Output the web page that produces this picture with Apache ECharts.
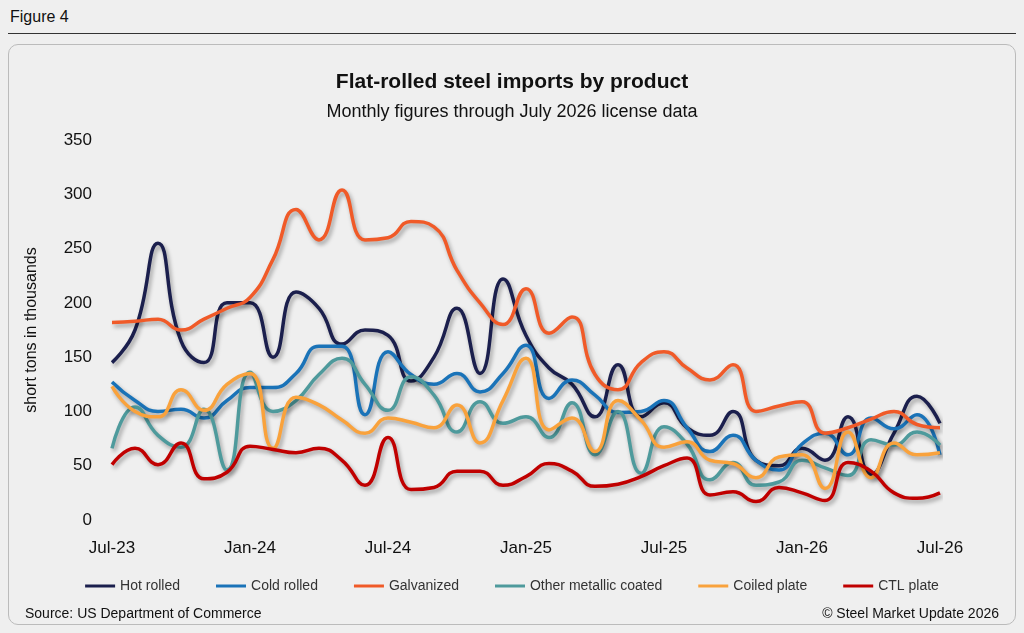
<!DOCTYPE html>
<html><head><meta charset="utf-8">
<script src="https://cdn.jsdelivr.net/npm/echarts@6/dist/echarts.min.js"></script>
<style>
body{margin:0;background:#efefef;font-family:"Liberation Sans",Arial,sans-serif;}
#fig{position:absolute;left:10px;top:8px;font-size:16px;color:#111;}
#rule{position:absolute;left:8px;right:8px;top:33px;border-top:1px solid #333;}
#box{position:absolute;left:8px;right:8px;top:44px;bottom:8px;border:1px solid #bbb;border-radius:10px;background:#efefef;}
#main{position:absolute;left:0;top:0;width:1024px;height:633px;}
</style></head><body>
<div id="fig">Figure 4</div><div id="rule"></div><div id="box"></div>
<div id="main"></div>
<script>
var months = [];
var mn = ['Jan','Feb','Mar','Apr','May','Jun','Jul','Aug','Sep','Oct','Nov','Dec'];
for (var i = 0; i < 37; i++) { var m = (6 + i) % 12, y = 23 + Math.floor((6 + i) / 12); months.push(mn[m] + '-' + y); }

var hotRolled = [145,175,255,165,145,200,200,150,210,195,162,175,170,128,150,195,135,222,170,140,125,95,143,95,108,85,78,100,55,50,66,55,95,42,80,114,89];
var coldRolled = [127,110,100,102,94,110,122,122,135,160,160,97,155,134,125,135,118,135,161,112,129,115,99,100,110,85,63,78,55,46,70,80,60,94,84,97,60];
var galvanized = [182,183,185,175,185,195,205,240,286,258,304,258,260,275,270,230,200,180,213,172,187,134,120,145,155,140,129,143,100,105,109,80,85,93,100,88,85];
var otherCoated = [66,104,78,67,102,46,136,100,110,134,149,125,101,132,115,81,109,89,95,76,108,60,100,43,86,70,37,53,32,35,55,48,41,74,69,81,69];
var coiledPlate = [123,100,95,120,101,125,135,66,113,106,92,80,94,90,85,106,71,110,149,83,94,63,110,92,67,72,55,52,39,58,60,29,81,39,71,60,62];
var ctlPlate = [51,66,51,71,38,44,68,65,62,66,55,32,76,28,30,45,45,32,40,52,45,31,33,40,50,57,23,26,17,30,25,18,53,45,25,20,25];

var names = ['Hot rolled','Cold rolled','Galvanized','Other metallic coated','Coiled plate','CTL plate'];
var colors = ['#1b1f4d','#1a73b8','#f05a28','#4e9a9c','#f9a23c','#c00000'];
var data = [hotRolled, coldRolled, galvanized, otherCoated, coiledPlate, ctlPlate];

var chart = echarts.init(document.getElementById('main'));
chart.setOption({
  backgroundColor: 'transparent',
  textStyle: {fontFamily: 'Liberation Sans'},
  title: [
    {text: 'Flat-rolled steel imports by product', left: 'center', top: 67, textStyle: {fontSize: 21, fontWeight: 'bold', color: '#111'}},
    {text: 'Monthly figures through July 2026 license data', left: 'center', top: 98, textStyle: {fontSize: 18, fontWeight: 'normal', color: '#111'}},
    {text: 'Source: US Department of Commerce', left: 20, top: 602, textStyle: {fontSize: 14, fontWeight: 'normal', color: '#111'}},
    {text: '© Steel Market Update 2026', right: 20, top: 602, textStyle: {fontSize: 14, fontWeight: 'normal', color: '#111'}}
  ],
  legend: {
    bottom: 35, left: 'center', itemWidth: 30, itemHeight: 3, itemGap: 36,
    icon: 'rect', textStyle: {fontSize: 14, color: '#333'}, data: names
  },
  grid: {left: 112, right: 84, top: 140, bottom: 113},
  xAxis: {
    type: 'category', data: months, boundaryGap: false,
    axisLine: {show: false}, axisTick: {show: false},
    axisLabel: {interval: 5, fontSize: 17, color: '#111', margin: 20}
  },
  yAxis: {
    type: 'value', min: 0, max: 350, interval: 50,
    name: 'short tons in thousands', nameLocation: 'middle', nameGap: 72,
    nameTextStyle: {fontSize: 16, color: '#111'},
    splitLine: {show: false}, axisLine: {show: false},
    axisLabel: {fontSize: 17, color: '#111', margin: 20}
  },
  series: data.map(function (d, k) {
    return {
      name: names[k], type: 'line', data: d, smooth: 0.5, symbol: 'none',
      lineStyle: {width: 3.5, color: colors[k], shadowColor: 'rgba(0,0,0,0.35)', shadowBlur: 4, shadowOffsetX: 2, shadowOffsetY: 3},
      itemStyle: {color: colors[k]}
    };
  })
});
</script>
</body></html>
